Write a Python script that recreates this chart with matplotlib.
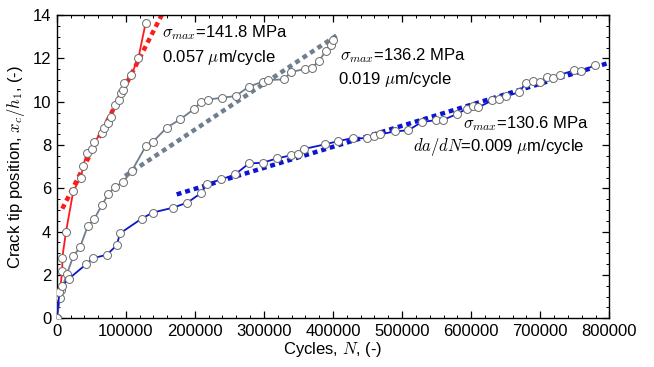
import matplotlib
matplotlib.use("Agg")
import matplotlib.pyplot as plt
from matplotlib.ticker import MultipleLocator

plt.rcParams["font.family"] = ["Liberation Sans", "DejaVu Sans"]
plt.rcParams["mathtext.fontset"] = "cm"

# sigma_max = 141.8 MPa (red)
red_N = [0, 8100, 8100, 13500, 24000, 34700, 38500, 43400, 50700, 54000, 65100,
         68900, 73800, 78600, 84400, 90200, 93100, 95500, 97900, 107600, 118100, 128800]
red_x = [0.0, 2.2, 2.8, 4.0, 5.87, 6.49, 7.03, 7.64, 7.83, 8.14, 8.57,
         8.80, 9.03, 9.31, 9.83, 10.07, 10.41, 10.52, 10.87, 11.21, 12.0, 13.64]

# sigma_max = 136.2 MPa (grey)
grey_N = [0, 5200, 6700, 14900, 24000, 33700, 44900, 54400, 65100, 74700, 84400,
          95500, 108600, 128800, 139000, 159200, 178500, 199200, 208900, 218600,
          238900, 259100, 278400, 299100, 306300, 329100, 339200, 359500, 369200,
          379700, 389400, 396700, 400400]
grey_x = [0.0, 0.95, 1.29, 2.06, 2.86, 3.28, 4.25, 4.59, 5.21, 5.73, 6.07,
          6.27, 6.80, 7.94, 8.14, 8.80, 9.18, 9.67, 9.99, 10.10,
          10.18, 10.26, 10.70, 10.93, 11.0, 11.03, 11.37, 11.51, 11.57,
          11.87, 12.35, 12.6, 12.86]

# sigma_max = 130.6 MPa (blue)
blue_N = [0, 4000, 7000, 17400, 42400, 53000, 72400, 86900, 91600, 123000, 139000,
          168800, 189100, 208500, 218000, 237900, 258100, 278400, 298200, 318500,
          338800, 348900, 358400, 388400, 407700, 428500, 448800, 459800, 468000,
          489800, 509000, 528400, 549100, 559700, 579100, 593600, 603100, 610400,
          630600, 640300, 650500, 669700, 679000, 690000, 699700, 709400, 718900,
          728600, 749300, 758600, 779300]
blue_x = [0.0, 1.2, 1.47, 1.82, 2.49, 2.78, 2.93, 3.37, 3.92, 4.6, 4.88,
          5.11, 5.34, 5.77, 6.21, 6.41, 6.64, 7.15, 7.18, 7.38,
          7.52, 7.60, 7.82, 8.03, 8.18, 8.32, 8.31, 8.41, 8.49,
          8.63, 8.68, 9.06, 9.15, 9.16, 9.43, 9.67, 9.80, 9.74,
          10.06, 10.14, 10.25, 10.44, 10.87, 10.95, 10.90, 11.14, 11.09,
          11.24, 11.45, 11.41, 11.68]

# linear fits (end points)
red_fit_N = [8100, 152000]
red_fit_x = [5.06, 14.0]
grey_fit_N = [99000, 407200]
grey_fit_x = [6.57, 13.1]
blue_fit_N = [173700, 800000]
blue_fit_x = [5.72, 11.8]

RED = "#ff1a1a"
GREY = "#6f7f90"
BLUE = "#0a14d2"

fig = plt.figure(figsize=(6.54, 3.67), dpi=100)
ax = fig.add_axes([0.0867, 0.1327, 0.845, 0.8263])

mk = dict(marker="o", markersize=5.7, markerfacecolor="white",
          markeredgecolor="#6a6a6a", markeredgewidth=0.7)
dots = dict(linewidth=3.2, linestyle=(0, (1.1, 0.9)))

ax.plot(red_fit_N, red_fit_x, color=RED, zorder=2, **dots)
ax.plot(grey_fit_N, grey_fit_x, color=GREY, zorder=2, **dots)
ax.plot(blue_fit_N, blue_fit_x, color=BLUE, zorder=2, **dots)

ax.plot(red_N, red_x, color=RED, linewidth=1.3, zorder=3, **mk)
ax.plot(grey_N, grey_x, color=GREY, linewidth=1.3, zorder=3, **mk)
ax.plot(blue_N, blue_x, color=BLUE, linewidth=1.3, zorder=3, **mk)

fs = 12
ax.text(152400, 13.17, r"$\sigma_{max}$=141.8 MPa", fontsize=fs, va="center")
ax.text(152400, 12.06, r"0.057 $\mu$m/cycle", fontsize=fs, va="center")
ax.text(410600, 12.15, r"$\sigma_{max}$=136.2 MPa", fontsize=fs, va="center")
ax.text(407200, 11.04, r"0.019 $\mu$m/cycle", fontsize=fs, va="center")
ax.text(588200, 9.01, r"$\sigma_{max}$=130.6 MPa", fontsize=fs, va="center")
ax.text(515800, 7.90, r"$da/dN$=0.009 $\mu$m/cycle", fontsize=fs, va="center")

ax.set_xlim(0, 800000)
ax.set_ylim(0, 14)
ax.xaxis.set_major_locator(MultipleLocator(100000))
ax.xaxis.set_minor_locator(MultipleLocator(20000))
ax.yaxis.set_major_locator(MultipleLocator(2))
ax.yaxis.set_minor_locator(MultipleLocator(0.5))
ax.tick_params(which="both", direction="in", top=True, right=True, labelsize=12, pad=4)
ax.tick_params(which="major", length=5, width=0.9)
ax.tick_params(which="minor", length=2.5, width=0.7)
for s in ax.spines.values():
    s.set_linewidth(1.0)

ax.set_xlabel(r"Cycles, $N$, (-)", fontsize=12, labelpad=1)
ax.set_ylabel(r"Crack tip position, $x_c/h_1$, (-)", fontsize=12, labelpad=4)

fig.savefig("out.png", dpi=100)
